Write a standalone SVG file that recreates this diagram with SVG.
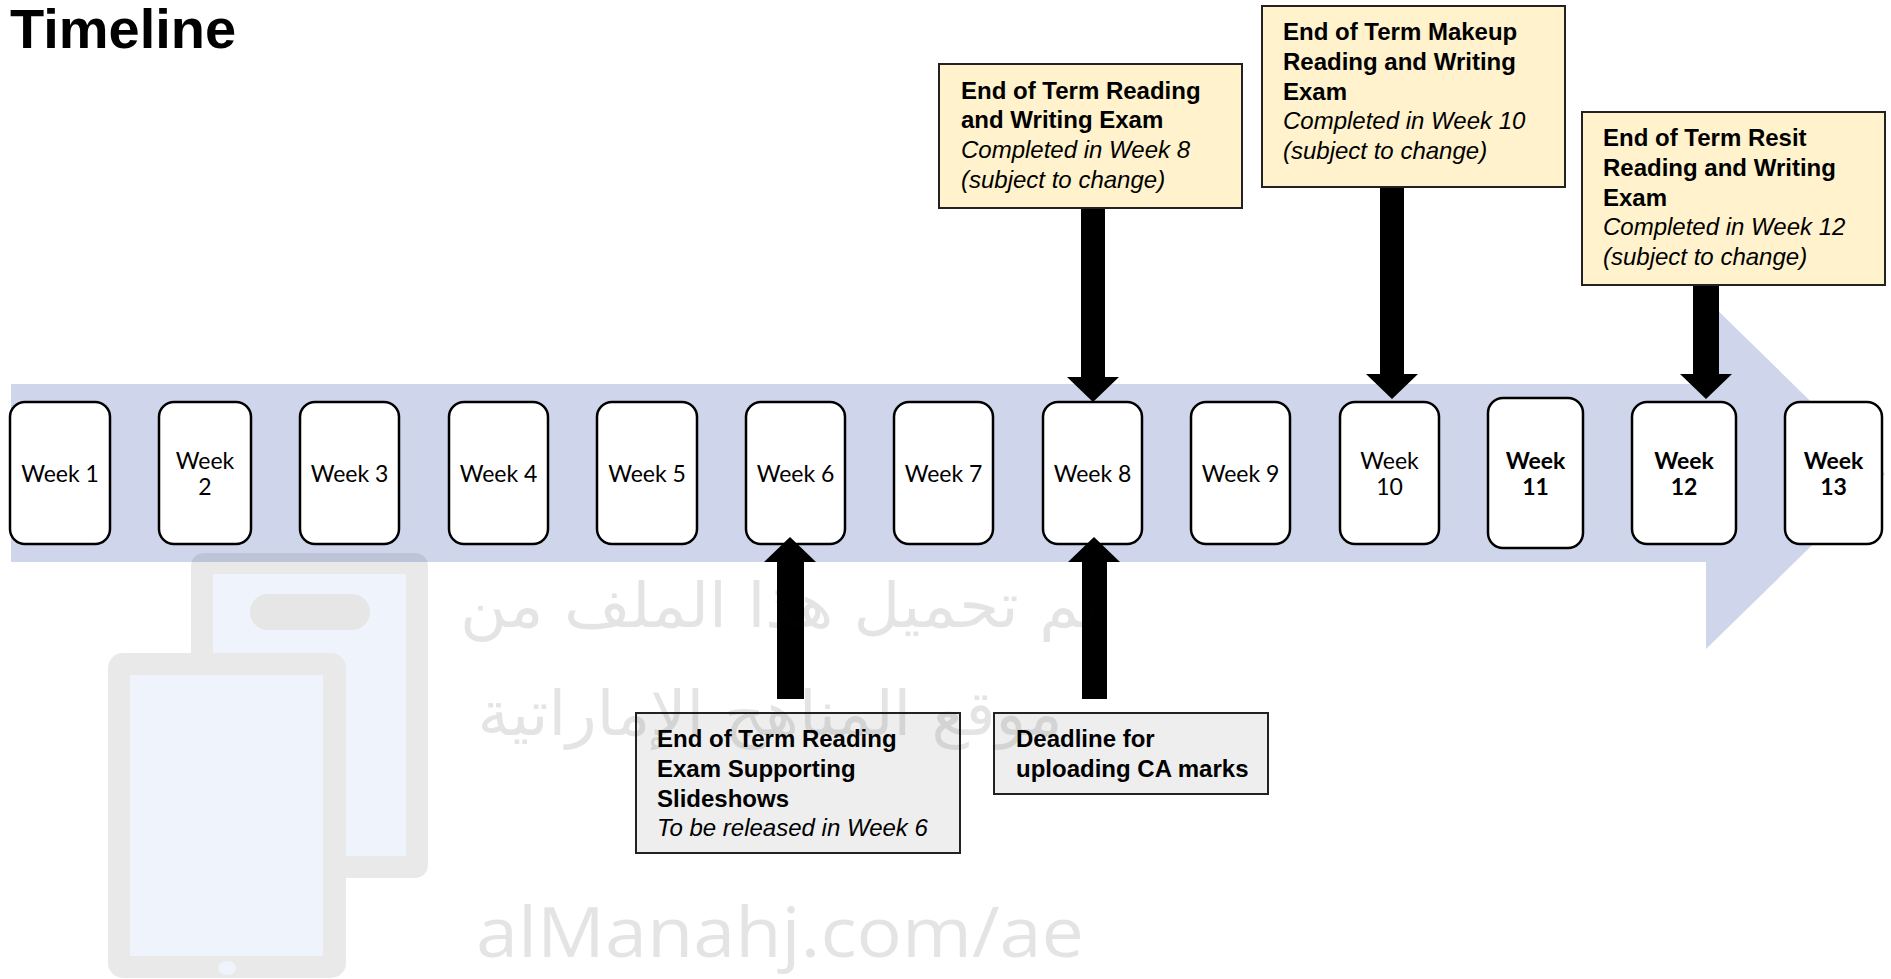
<svg xmlns="http://www.w3.org/2000/svg" width="1891" height="979" viewBox="0 0 1891 979">
<style>
.wk{fill:#fff;stroke:#000;stroke-width:2.5}
.wt{font-family:Lato,"Open Sans",sans-serif;font-size:23px;fill:#000;text-anchor:middle}
.wb{font-weight:bold}
.cy{fill:#fff2cc;stroke:#222;stroke-width:2}
.cg{fill:#eeeeee;stroke:#222;stroke-width:2}
.ct{font-family:"Liberation Sans",Arial,sans-serif;font-size:24px;fill:#000}
.b{font-weight:bold}
.i{font-style:italic}
.arr{fill:#000}
</style>
<rect width="1891" height="979" fill="#fff"/>
<text x="10" y="48" font-family="Liberation Sans,Arial,sans-serif" font-size="56" font-weight="bold" fill="#000">Timeline</text>
<g id="banner">
<polygon points="11,384 1706,384 1706,299 1885,474 1706,649 1706,562 11,562" fill="#cfd5ea"/>
</g>
<g id="week1"><rect class="wk" x="10" y="402" width="100" height="142" rx="15"/><text class="wt" x="60" y="482">Week 1</text></g>
<g id="week2"><rect class="wk" x="159" y="402" width="92" height="142" rx="15"/><text class="wt" x="205" y="468.5">Week</text><text class="wt" x="205" y="495">2</text></g>
<g id="week3"><rect class="wk" x="300" y="402" width="99" height="142" rx="15"/><text class="wt" x="349.5" y="482">Week 3</text></g>
<g id="week4"><rect class="wk" x="449" y="402" width="99" height="142" rx="15"/><text class="wt" x="498.5" y="482">Week 4</text></g>
<g id="week5"><rect class="wk" x="597" y="402" width="100" height="142" rx="15"/><text class="wt" x="647" y="482">Week 5</text></g>
<g id="week6"><rect class="wk" x="746" y="402" width="99" height="142" rx="15"/><text class="wt" x="795.5" y="482">Week 6</text></g>
<g id="week7"><rect class="wk" x="894" y="402" width="99" height="142" rx="15"/><text class="wt" x="943.5" y="482">Week 7</text></g>
<g id="week8"><rect class="wk" x="1043" y="402" width="99" height="142" rx="15"/><text class="wt" x="1092.5" y="482">Week 8</text></g>
<g id="week9"><rect class="wk" x="1191" y="402" width="99" height="142" rx="15"/><text class="wt" x="1240.5" y="482">Week 9</text></g>
<g id="week10"><rect class="wk" x="1340" y="402" width="99" height="142" rx="15"/><text class="wt" x="1389.5" y="468.5">Week</text><text class="wt" x="1389.5" y="495">10</text></g>
<g id="week11"><rect class="wk" x="1488" y="398" width="95" height="150" rx="15"/><text class="wt wb" x="1535.5" y="468.5">Week</text><text class="wt wb" x="1535.5" y="495">11</text></g>
<g id="week12"><rect class="wk" x="1632" y="402" width="104" height="142" rx="15"/><text class="wt wb" x="1684" y="468.5">Week</text><text class="wt wb" x="1684" y="495">12</text></g>
<g id="week13"><rect class="wk" x="1785" y="402" width="97" height="142" rx="15"/><text class="wt wb" x="1833.5" y="468.5">Week</text><text class="wt wb" x="1833.5" y="495">13</text></g>
<g id="connectors">
<polygon class="arr" points="1081,207 1105,207 1105,377 1119,377 1093,402 1067,377 1081,377"/>
<polygon class="arr" points="1380,186 1404,186 1404,374 1418,374 1392,399 1366,374 1380,374"/>
<polygon class="arr" points="1693,284 1719,284 1719,374 1732,374 1706,399 1680,374 1693,374"/>
<polygon class="arr" points="777,699 804,699 804,562 816,562 790,537 764,562 777,562"/>
<polygon class="arr" points="1082,699 1107,699 1107,562 1120,562 1094,537 1068,562 1082,562"/>
</g>
<g id="examA">
<rect class="cy" x="939" y="64" width="303" height="144"/>
<text class="ct b" x="961" y="98.5">End of Term Reading</text>
<text class="ct b" x="961" y="128.3">and Writing Exam</text>
<text class="ct i" x="961" y="158">Completed in Week 8</text>
<text class="ct i" x="961" y="187.8">(subject to change)</text>
</g>
<g id="examB">
<rect class="cy" x="1262" y="6" width="303" height="181"/>
<text class="ct b" x="1283" y="40">End of Term Makeup</text>
<text class="ct b" x="1283" y="69.8">Reading and Writing</text>
<text class="ct b" x="1283" y="99.6">Exam</text>
<text class="ct i" x="1283" y="129.4">Completed in Week 10</text>
<text class="ct i" x="1283" y="159.2">(subject to change)</text>
</g>
<g id="examC">
<rect class="cy" x="1582" y="112" width="303" height="173"/>
<text class="ct b" x="1603" y="146">End of Term Resit</text>
<text class="ct b" x="1603" y="175.8">Reading and Writing</text>
<text class="ct b" x="1603" y="205.6">Exam</text>
<text class="ct i" x="1603" y="235.4">Completed in Week 12</text>
<text class="ct i" x="1603" y="265.2">(subject to change)</text>
</g>
<g id="slides">
<rect class="cg" x="636" y="713" width="324" height="140"/>
<text class="ct b" x="657" y="747">End of Term Reading</text>
<text class="ct b" x="657" y="776.8">Exam Supporting</text>
<text class="ct b" x="657" y="806.6">Slideshows</text>
<text class="ct i" x="657" y="836.4">To be released in Week 6</text>
</g>
<g id="deadline">
<rect class="cg" x="994" y="713" width="274" height="81"/>
<text class="ct b" x="1016" y="747">Deadline for</text>
<text class="ct b" x="1016" y="776.8">uploading CA marks</text>
</g>
<g id="watermark-icon" opacity="0.1">
<rect x="191" y="553" width="237" height="325" rx="13" fill="#373737"/>
<rect x="213" y="574" width="193" height="282" fill="#699be9"/>
<rect x="250" y="594" width="120" height="36" rx="18" fill="#191919"/>
<rect x="108" y="653" width="238" height="325" rx="15" fill="#373737"/>
<rect x="130" y="675" width="193" height="281" fill="#699be9"/>
<ellipse cx="227" cy="968" rx="9" ry="7" fill="#699be9"/>
</g>
<g id="watermark-text" opacity="0.11" fill="#111">
<text x="780" y="627" font-family="DejaVu Sans,sans-serif" font-size="62" text-anchor="middle" textLength="640" lengthAdjust="spacingAndGlyphs">تم تحميل هذا الملف من</text>
<text x="770" y="735" font-family="DejaVu Sans,sans-serif" font-size="62" text-anchor="middle" textLength="585" lengthAdjust="spacingAndGlyphs">موقع المناهج الإماراتية</text>
<text x="476" y="957" font-family="Open Sans,sans-serif" font-size="70" textLength="608" lengthAdjust="spacingAndGlyphs">alManahj.com/ae</text>
</g>
</svg>
